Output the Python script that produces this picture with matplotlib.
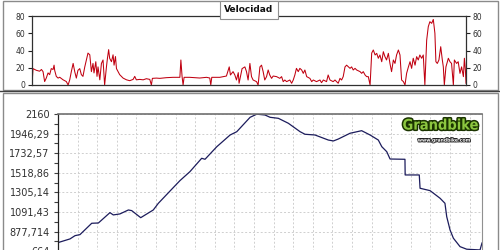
import matplotlib
matplotlib.use("Agg")
import matplotlib.pyplot as plt
import matplotlib.patheffects as pe
from matplotlib.patches import Rectangle
from matplotlib.lines import Line2D

# ---- speed profile (km, km/h) ----
speed_km = [0.00, 0.05, 0.22, 0.38, 0.47, 0.55, 0.63, 0.71, 0.80, 0.88, 0.96, 1.05, 1.10, 1.13,
            1.21, 1.30, 1.38, 1.55, 1.71, 1.80, 1.88, 1.96, 2.05, 2.13, 2.21, 2.29, 2.38, 2.46,
            2.54, 2.63, 2.71, 2.79, 2.88, 2.96, 3.04, 3.09, 3.18, 3.24, 3.29, 3.38, 3.46, 3.54,
            3.62, 3.71, 3.76, 3.82, 3.87, 3.96, 4.04, 4.09, 4.16, 4.21, 4.29, 4.37, 4.54, 4.71,
            4.87, 5.04, 5.12, 5.20, 5.37, 5.54, 5.70, 5.87, 5.95, 6.00, 6.20, 6.37, 6.70, 7.03,
            7.37, 7.42, 7.48, 7.53, 7.58, 7.86, 8.36, 8.70, 8.86, 8.91, 8.96, 9.36, 9.69, 9.83,
            9.89, 10.02, 10.11, 10.19, 10.28, 10.32, 10.39, 10.47, 10.61, 10.69, 10.77, 10.86,
            10.94, 11.02, 11.19, 11.27, 11.36, 11.44, 11.52, 11.60, 11.69, 11.77, 11.85, 11.94,
            12.02, 12.19, 12.35, 12.44, 12.52, 12.60, 12.69, 12.85, 12.94, 13.02, 13.10, 13.18,
            13.27, 13.35, 13.44, 13.52, 13.60, 13.69, 13.85, 13.94, 14.02, 14.18, 14.35, 14.43,
            14.52, 14.68, 14.76, 14.85, 15.01, 15.10, 15.26, 15.35, 15.43, 15.51, 15.60, 15.68,
            15.85, 15.93, 16.01, 16.10, 16.18, 16.35, 16.43, 16.51, 16.60, 16.68, 16.76, 16.85,
            16.93, 17.01, 17.10, 17.18, 17.26, 17.34, 17.43, 17.51, 17.59, 17.67, 17.76, 17.84,
            17.92, 18.01, 18.09, 18.17, 18.26, 18.34, 18.42, 18.51, 18.59, 18.67, 18.76, 18.84,
            18.92, 19.00, 19.09, 19.17, 19.25, 19.33, 19.42, 19.50, 19.58, 19.67, 19.75, 19.83,
            19.92, 20.00, 20.08, 20.13, 20.20, 20.28, 20.37, 20.45, 20.50, 20.55, 20.63, 20.75,
            20.83, 20.91, 21.00, 21.05, 21.16, 21.24, 21.33, 21.41, 21.50, 21.55, 21.60, 21.63]
speed_kmh = [0, 19, 17, 16, 18, 15.5, 4, 8, 14, 12, 19, 18, 23, 17,
             10, 8, 9, 6, 4, 0, 6, 15.5, 25, 15.5, 8, 17, 19, 12,
             10, 21, 29, 37, 35, 15.5, 25, 14, 27, 10, 21, 6, 25, 29,
             0, 21, 31, 41, 31, 27, 35, 23, 33, 19, 15.5, 12, 8, 6,
             5, 6.5, 10, 6, 6.5, 6, 7.3, 6.5, 0, 7.7, 8, 7.7, 8.5, 8.9,
             8.9, 29, 9.7, 0, 8.9, 8.9, 8.1, 8.9, 8.1, 0, 8.9, 8.9, 10.4, 21,
             11.6, 15.5, 11.6, 5.8, 14.3, 2, 9.7, 19, 21, 15.5, 5.8, 25,
             9.7, 5.8, 3.9, 0, 21, 23, 15.5, 5.8, 9.7, 17.4, 11.6, 7.7,
             10.4, 9.7, 7.7, 9.7, 3.9, 5.8, 3.9, 5.8, 2, 5.8, 11.6, 19.3,
             15.5, 19.3, 17.4, 13.5, 17.4, 9.7, 7.7, 3.9, 5.8, 3.9, 5.8, 2.7,
             5.8, 3.9, 11.6, 5.8, 3.9, 5.8, 2, 7.7, 5.8, 9.7, 21, 23,
             19.3, 21, 17.4, 19.3, 17.4, 15.5, 13.5, 15.5, 11.6, 9.7, 9.7, 0,
             37, 40.6, 34.8, 36.7, 31, 34.8, 27, 38.6, 32.9, 29, 36.7, 25,
             15.5, 29, 25, 34.8, 40.6, 34.8, 5.8, 3.9, 0, 13.5, 21, 27,
             19.3, 31, 23, 32.9, 29, 34.8, 31, 34.8, 0, 52, 67.6, 73.4,
             71.5, 76, 60, 27, 25, 29, 44.4, 29, 21, 0, 21, 31,
             27, 25, 0, 29, 25, 27, 13.5, 21, 9.7, 31, 17.4, 2]

# ---- elevation profile (km, m) ----
elev_km = [0.00, 0.44, 0.61, 0.87, 1.12, 1.72, 2.06, 2.65, 2.82, 3.16, 3.59, 3.76, 4.22, 4.86,
           5.12, 5.80, 6.22, 6.73, 7.33, 7.50, 8.10, 8.78, 9.12, 9.80, 10.14, 10.56, 10.82,
           11.24, 11.75, 12.35, 12.60, 13.11, 13.79, 14.05, 14.30, 14.90, 15.49, 15.92, 16.34,
           16.52, 16.77, 16.94, 17.70, 17.71, 18.43, 18.47, 18.98, 19.49, 19.74, 19.83, 20.00,
           20.17, 20.51, 20.85, 21.53, 21.63]
elev_m = [757, 786, 797, 833, 844, 968, 971, 1084, 1059, 1070, 1113, 1106, 1029, 1113,
          1186, 1339, 1433, 1531, 1677, 1666, 1803, 1931, 1967, 2124, 2158, 2149, 2124,
          2113, 2059, 1967, 1939, 1931, 1876, 1866, 1887, 1950, 1978, 1931, 1876,
          1803, 1749, 1669, 1666, 1495, 1495, 1350, 1324, 1241, 1186, 1040, 895,
          805, 713, 685, 677, 753]

speed_ticks = [0, 20, 40, 60, 80]
elev_ticks = [664, 877.714, 1091.43, 1305.14, 1518.86, 1732.57, 1946.29, 2160]
elev_labels = ["664", "877,714", "1091,43", "1305,14", "1518,86", "1732,57", "1946,29", "2160"]
title = "Velocidad"

fig = plt.figure(figsize=(5, 2.5), dpi=100)
fig.patch.set_facecolor("white")

# ---------- top panel ----------
ax1 = fig.add_axes([0.064, 0.66, 0.868, 0.276])
ax1.plot(speed_km, speed_kmh, color="#c00010", lw=0.75)
ax1.set_xlim(0, 21.63)
ax1.set_ylim(0, 80)
ax1.set_xticks([])
ax1.set_yticks(speed_ticks)
ax1.tick_params(axis="y", which="both", left=True, right=True, labelleft=True, labelright=True,
                labelsize=5.5, length=3, width=0.8, color="#202020", labelcolor="#303030", pad=2)
for s in ax1.spines.values():
    s.set_color("#303030")
    s.set_linewidth(0.9)

# ---------- bottom panel ----------
ax2 = fig.add_axes([0.116, -0.028, 0.848, 0.572])
ax2.plot(elev_km, elev_m, color="#1c1c5c", lw=0.9)
ax2.set_xlim(0, 21.63)
ax2.set_ylim(600, 2160)
ax2.set_xticks(range(0, 22))
ax2.set_yticks(elev_ticks)
ax2.set_yticklabels(elev_labels)
ax2.set_yticks([(a + b) / 2 for a, b in zip(elev_ticks[:-1], elev_ticks[1:])], minor=True)
ax2.tick_params(axis="y", which="major", labelsize=7, length=3, width=0.8,
                color="#404040", labelcolor="#303030", pad=3)
ax2.tick_params(axis="y", which="minor", length=3, width=0.8, color="#404040")
ax2.tick_params(axis="x", length=0, labelbottom=False)
ax2.grid(True, which="major", color="#cfcfcf", linestyle=(0, (2, 2)), lw=0.7)
ax2.spines["left"].set_color("#202020")
ax2.spines["left"].set_linewidth(0.9)
ax2.spines["top"].set_color("#707070")
ax2.spines["top"].set_linewidth(1.2)
ax2.spines["right"].set_color("#909090")
ax2.spines["right"].set_linewidth(0.8)
ax2.spines["bottom"].set_visible(False)

# logo
ax2.text(0.993, 0.975, "Grandbike", transform=ax2.transAxes, ha="right", va="top",
         fontsize=10.5, fontweight="bold", fontstretch="condensed",
         family=["DejaVu Sans"], color="#8cc63f",
         path_effects=[pe.withStroke(linewidth=2.2, foreground="#1a3300")])
ax2.text(0.975, 0.835, "www.grandbike.com", transform=ax2.transAxes, ha="right", va="top",
         fontsize=3.3, fontweight="bold", color="white",
         path_effects=[pe.withStroke(linewidth=1.2, foreground="#222222")])

# ---------- frames ----------
W, H = 500.0, 250.0
def frect(x0, y0, x1, y1, **kw):
    fig.patches.append(Rectangle((x0 / W, 1 - y1 / H), (x1 - x0) / W, (y1 - y0) / H,
                                 transform=fig.transFigure, fill=False, **kw))
frect(2.5, 0.5, 498, 90, edgecolor="#8a8a8a", lw=1.0)
fig.lines.append(Line2D([0, 1], [1 - 90.5 / H, 1 - 90.5 / H], transform=fig.transFigure,
                        color="#404040", lw=1.0))
frect(2.5, 93, 498, 252, edgecolor="#8a8a8a", lw=1.0)

fig.text(249 / W, 1 - 10 / H, title, ha="center", va="center", fontsize=6.5,
         fontweight="bold", color="#101010",
         bbox=dict(boxstyle="square,pad=0.45", facecolor="white", edgecolor="#909090", lw=0.8))

fig.savefig("out.png", dpi=100, facecolor="white")
